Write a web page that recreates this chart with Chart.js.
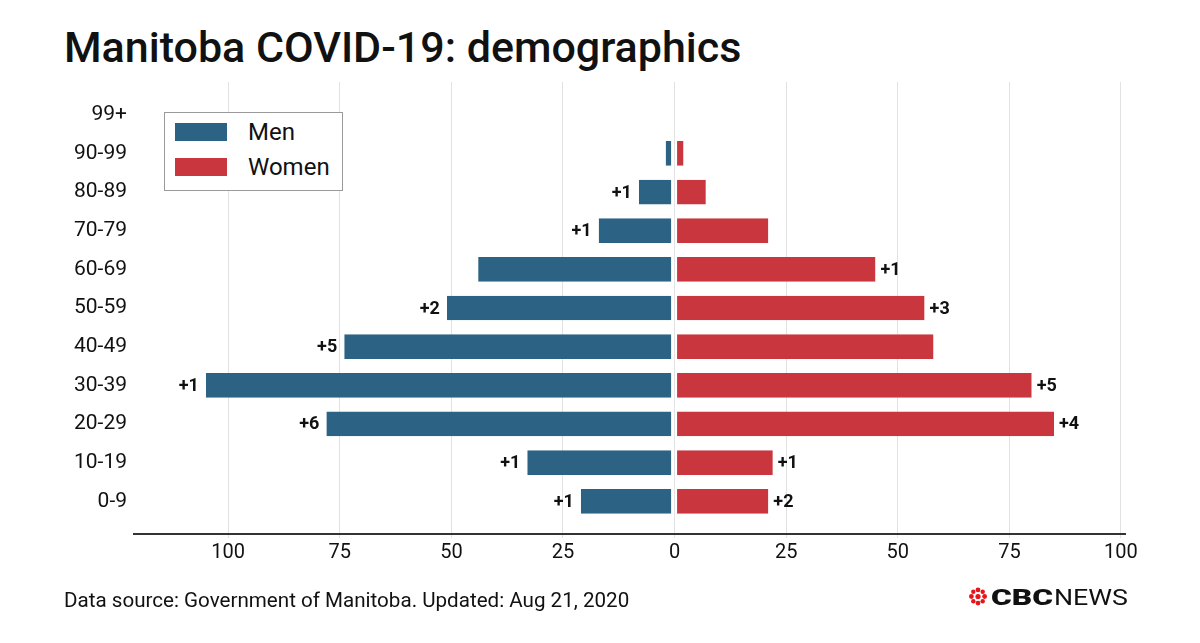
<!DOCTYPE html>
<html lang="en">
<head>
    <meta charset="UTF-8">
    <title>Manitoba COVID-19: demographics</title>
    <script src="https://cdn.jsdelivr.net/npm/chart.js"></script>
    <style>
        body { margin: 0; background: #fff; font-family: Roboto, sans-serif; color: #111; }
        #page { position: relative; width: 1200px; height: 643px; overflow: hidden; }
        #chart-box { position: absolute; left: 0; top: 0; width: 1200px; height: 643px; }
        h1 { position: absolute; left: 64px; top: 26px; margin: 0; font-size: 43px; line-height: 43px; font-weight: 500; }
        #legend { position: absolute; left: 164px; top: 112px; width: 177px; height: 77px; border: 1px solid #9a9a9a; background: #fff; }
        .item { position: absolute; left: 10px; height: 18px; }
        .swatch { position: absolute; left: 0; top: 0; width: 52px; height: 18px; }
        .item span { position: absolute; left: 73px; top: -3px; font-size: 24px; line-height: 24px; white-space: nowrap; }
        #source { position: absolute; left: 64px; top: 590px; font-size: 20.6px; line-height: 21px; }
        #logo { position: absolute; left: 966px; top: 585px; }
    </style>
</head>
<body>
<div id="page">
    <h1>Manitoba COVID-19: demographics</h1>
    <div id="chart-box"><canvas id="demoChart"></canvas></div>
    <div id="legend"></div>
    <div id="source">Data source: Government of Manitoba. Updated: Aug 21, 2020</div>
    <svg id="logo" width="170" height="26" viewBox="0 0 170 26">
        <g fill="#e8141c" transform="translate(12,11.5)">
            <circle r="2.6"/>
            <circle cx="0" cy="-6.6" r="2.4"/>
            <circle cx="0" cy="6.6" r="2.4"/>
            <circle cx="-6.6" cy="0" r="2.4"/>
            <circle cx="6.6" cy="0" r="2.4"/>
            <circle cx="-4.7" cy="-4.7" r="2.2"/>
            <circle cx="4.7" cy="-4.7" r="2.2"/>
            <circle cx="-4.7" cy="4.7" r="2.2"/>
            <circle cx="4.7" cy="4.7" r="2.2"/>
        </g>
        <text x="25" y="20" font-family="Roboto" font-weight="900" font-size="22" textLength="62" lengthAdjust="spacingAndGlyphs" fill="#111">CBC</text>
        <text x="88" y="20" font-family="Roboto" font-weight="400" font-size="22" textLength="74" lengthAdjust="spacingAndGlyphs" fill="#111">NEWS</text>
    </svg>
</div>
<script>
    // age groups, bottom to top
    const categories = ['0-9', '10-19', '20-29', '30-39', '40-49', '50-59', '60-69', '70-79', '80-89', '90-99', '99+'];
    const menCases = [21, 33, 78, 105, 74, 51, 44, 17, 8, 2, 0];
    const womenCases = [21, 22, 85, 80, 58, 56, 45, 21, 7, 2, 0];
    // new cases since last update
    const menNew = [1, 1, 6, 1, 5, 2, 0, 1, 1, 0, 0];
    const womenNew = [2, 1, 4, 5, 0, 3, 1, 0, 0, 0, 0];
    const xTicks = [-100, -75, -50, -25, 0, 25, 50, 75, 100];

    const MEN = '#2c6385';
    const WOMEN = '#c9363e';

    const changeLabels = {
        id: 'changeLabels',
        afterDatasetsDraw(chart) {
            const ctx = chart.ctx;
            ctx.save();
            ctx.font = 'bold 18px Roboto';
            ctx.fillStyle = '#111';
            ctx.textBaseline = 'middle';
            [menNew, womenNew].forEach((arr, d) => {
                chart.getDatasetMeta(d).data.forEach((bar, i) => {
                    if (!arr[i]) return;
                    const txt = '+' + arr[i];
                    if (d === 0) {
                        ctx.textAlign = 'right';
                        ctx.fillText(txt, bar.x - 7, bar.y + 1);
                    } else {
                        ctx.textAlign = 'left';
                        ctx.fillText(txt, bar.x + 5, bar.y + 1);
                    }
                });
            });
            ctx.restore();
        }
    };

    const chart = new Chart(document.getElementById('demoChart'), {
        type: 'bar',
        data: {
            datasets: [
                {
                    label: 'Men',
                    data: menCases.map((v, i) => ({ x: -v, y: i })),
                    backgroundColor: MEN,
                    borderColor: 'rgba(0,0,0,0)',
                    borderWidth: { left: 0, right: 3, top: 0, bottom: 0 },
                    borderSkipped: false
                },
                {
                    label: 'Women',
                    data: womenCases.map((v, i) => ({ x: v, y: i })),
                    backgroundColor: WOMEN,
                    borderColor: 'rgba(0,0,0,0)',
                    borderWidth: { left: 2, right: 0, top: 0, bottom: 0 },
                    borderSkipped: false
                }
            ]
        },
        options: {
            indexAxis: 'y',
            responsive: true,
            maintainAspectRatio: false,
            animation: false,
            grouped: false,
            categoryPercentage: 1,
            barPercentage: 0.64,
            layout: { padding: { left: 60, right: 75, top: 82, bottom: 69 } },
            plugins: { legend: { display: false }, tooltip: { enabled: false } },
            scales: {
                x: {
                    type: 'linear',
                    min: -121.1,
                    max: 100.9,
                    afterBuildTicks: s => { s.ticks = xTicks.map(v => ({ value: v })); },
                    afterFit: s => { s.height = 40; },
                    grid: { color: '#e2e2e2', lineWidth: 1, tickLength: 4 },
                    border: { display: true, color: '#333', width: 2 },
                    ticks: {
                        padding: 3,
                        color: '#111',
                        font: { family: 'Roboto', size: 20 },
                        callback: v => Math.abs(v)
                    }
                },
                y: {
                    type: 'linear',
                    offset: false,
                    min: -0.845,
                    max: 10.845,
                    afterBuildTicks: s => { s.ticks = categories.map((c, i) => ({ value: i })); },
                    afterFit: s => { s.width = 74; },
                    grid: { display: false, drawTicks: false },
                    border: { display: false },
                    ticks: {
                        padding: 7,
                        color: '#111',
                        font: { family: 'Roboto', size: 21 },
                        callback: v => categories[v]
                    }
                }
            }
        },
        plugins: [changeLabels]
    });

    // legend box drawn from the datasets
    const legend = document.getElementById('legend');
    chart.data.datasets.forEach((ds, i) => {
        const item = document.createElement('div');
        item.className = 'item';
        item.style.top = (10 + i * 35) + 'px';
        item.innerHTML = '<div class="swatch" style="background:' + ds.backgroundColor + '"></div><span>' + ds.label + '</span>';
        legend.appendChild(item);
    });
</script>
</body>
</html>
